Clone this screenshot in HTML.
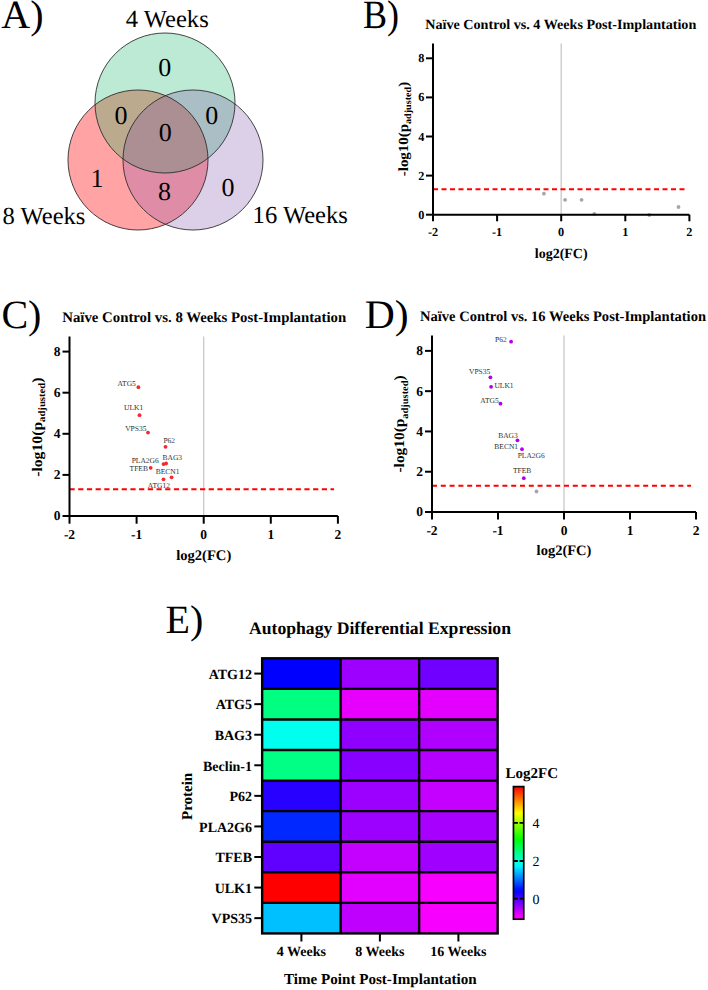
<!DOCTYPE html>
<html><head><meta charset="utf-8"><style>
html,body{margin:0;padding:0;background:#fff;}
svg{display:block;font-family:"Liberation Serif", serif;text-rendering:geometricPrecision;}
</style></head><body>
<svg width="708" height="990" viewBox="0 0 708 990" font-family='"Liberation Serif", serif'>
<rect width="708" height="990" fill="#fff"/>
<defs>
<clipPath id="cG"><circle cx="165" cy="103" r="70"/></clipPath>
<clipPath id="cR"><circle cx="138" cy="160" r="70"/></clipPath>
<clipPath id="cP"><circle cx="193" cy="160" r="70"/></clipPath>
</defs>
<circle cx="138" cy="160" r="70" fill="#ffa3a4" />
<circle cx="165" cy="103" r="70" fill="#bdead5" />
<circle cx="193" cy="160" r="70" fill="#dccfe8" />
<g clip-path="url(#cR)"><circle cx="165" cy="103" r="70" fill="#bcaa8e" /></g>
<g clip-path="url(#cR)"><circle cx="193" cy="160" r="70" fill="#df8ca7" /></g>
<g clip-path="url(#cG)"><circle cx="193" cy="160" r="70" fill="#a9bec5" /></g>
<g clip-path="url(#cR)"><g clip-path="url(#cG)"><circle cx="193" cy="160" r="70" fill="#ab8f93" /></g></g>
<circle cx="165" cy="103" r="70" fill="none" stroke="#262626" stroke-width="0.85"/>
<circle cx="138" cy="160" r="70" fill="none" stroke="#262626" stroke-width="0.85"/>
<circle cx="193" cy="160" r="70" fill="none" stroke="#262626" stroke-width="0.85"/>
<text x="1.30" y="28.40" font-size="40" text-anchor="start" fill="#000" >A)</text>
<text x="125.80" y="27.20" font-size="24.6" text-anchor="start" fill="#000" >4 Weeks</text>
<text x="2.50" y="223.50" font-size="24.6" text-anchor="start" fill="#000" >8 Weeks</text>
<text x="252.60" y="222.80" font-size="24.6" text-anchor="start" fill="#000" >16 Weeks</text>
<text x="164.70" y="75.70" font-size="26" text-anchor="middle" fill="#000" >0</text>
<text x="121.00" y="124.20" font-size="26" text-anchor="middle" fill="#000" >0</text>
<text x="211.70" y="124.20" font-size="26" text-anchor="middle" fill="#000" >0</text>
<text x="165.30" y="141.00" font-size="26" text-anchor="middle" fill="#000" >0</text>
<text x="97.00" y="186.70" font-size="26" text-anchor="middle" fill="#000" >1</text>
<text x="164.60" y="200.00" font-size="26" text-anchor="middle" fill="#000" >8</text>
<text x="228.00" y="195.60" font-size="26" text-anchor="middle" fill="#000" >0</text>
<text transform="translate(363,28.3) scale(0.9,1)" font-size="40">B)</text>
<line x1="561.20" y1="43.40" x2="561.20" y2="214.70" stroke="#c8c8c8" stroke-width="1.3"/>
<line x1="433.00" y1="189.26" x2="686.00" y2="189.26" stroke="#ff0000" stroke-width="2" stroke-dasharray="5 3.5"/>
<circle cx="543.9" cy="193.7" r="1.9" fill="#a6a6a6"/>
<circle cx="565.1" cy="199.8" r="1.9" fill="#a6a6a6"/>
<circle cx="581.6" cy="199.8" r="1.9" fill="#a6a6a6"/>
<circle cx="594.3" cy="213.9" r="1.9" fill="#a6a6a6"/>
<circle cx="649.3" cy="215" r="1.9" fill="#a6a6a6"/>
<circle cx="678.5" cy="207" r="1.9" fill="#a6a6a6"/>
<path d="M433.00 43.40V214.70H689.40" fill="none" stroke="#000" stroke-width="2"/>
<line x1="426.00" y1="214.70" x2="433.00" y2="214.70" stroke="#000" stroke-width="2"/>
<text x="424.50" y="218.76" font-size="12.3" font-weight="bold" text-anchor="end" fill="#000" >0</text>
<line x1="426.00" y1="175.60" x2="433.00" y2="175.60" stroke="#000" stroke-width="2"/>
<text x="424.50" y="179.66" font-size="12.3" font-weight="bold" text-anchor="end" fill="#000" >2</text>
<line x1="426.00" y1="136.50" x2="433.00" y2="136.50" stroke="#000" stroke-width="2"/>
<text x="424.50" y="140.56" font-size="12.3" font-weight="bold" text-anchor="end" fill="#000" >4</text>
<line x1="426.00" y1="97.40" x2="433.00" y2="97.40" stroke="#000" stroke-width="2"/>
<text x="424.50" y="101.46" font-size="12.3" font-weight="bold" text-anchor="end" fill="#000" >6</text>
<line x1="426.00" y1="58.30" x2="433.00" y2="58.30" stroke="#000" stroke-width="2"/>
<text x="424.50" y="62.36" font-size="12.3" font-weight="bold" text-anchor="end" fill="#000" >8</text>
<line x1="433.00" y1="214.70" x2="433.00" y2="221.30" stroke="#000" stroke-width="2"/>
<text x="433.00" y="236.30" font-size="12.3" font-weight="bold" text-anchor="middle" fill="#000" >-2</text>
<line x1="497.10" y1="214.70" x2="497.10" y2="221.30" stroke="#000" stroke-width="2"/>
<text x="497.10" y="236.30" font-size="12.3" font-weight="bold" text-anchor="middle" fill="#000" >-1</text>
<line x1="561.20" y1="214.70" x2="561.20" y2="221.30" stroke="#000" stroke-width="2"/>
<text x="561.20" y="236.30" font-size="12.3" font-weight="bold" text-anchor="middle" fill="#000" >0</text>
<line x1="625.30" y1="214.70" x2="625.30" y2="221.30" stroke="#000" stroke-width="2"/>
<text x="625.30" y="236.30" font-size="12.3" font-weight="bold" text-anchor="middle" fill="#000" >1</text>
<line x1="689.40" y1="214.70" x2="689.40" y2="221.30" stroke="#000" stroke-width="2"/>
<text x="689.40" y="236.30" font-size="12.3" font-weight="bold" text-anchor="middle" fill="#000" >2</text>
<text x="425.30" y="28.80" font-size="14" font-weight="bold" text-anchor="start" fill="#000" textLength="271" lengthAdjust="spacingAndGlyphs">Naïve Control vs. 4 Weeks Post-Implantation</text>
<text x="561.20" y="258.10" font-size="14" font-weight="bold" text-anchor="middle" fill="#000" >log2(FC)</text>
<text transform="translate(407.70,129.00) rotate(-90) scale(1.067,1)" text-anchor="middle" font-size="14" font-weight="bold">-log10(p<tspan font-size="9.52" dy="3.50">adjusted</tspan><tspan dy="-3.50">)</tspan></text>
<text x="1.40" y="328.40" font-size="40" text-anchor="start" fill="#000" >C)</text>
<line x1="203.70" y1="336.40" x2="203.70" y2="516.00" stroke="#c8c8c8" stroke-width="1.3"/>
<line x1="69.50" y1="489.26" x2="334.00" y2="489.26" stroke="#ff0000" stroke-width="2" stroke-dasharray="5.2 3.5"/>
<circle cx="138.4" cy="387.2" r="1.9" fill="#f02a30"/>
<circle cx="139.5" cy="415.2" r="1.9" fill="#f02a30"/>
<circle cx="148" cy="432.6" r="1.9" fill="#f02a30"/>
<circle cx="165.5" cy="446.8" r="1.9" fill="#f02a30"/>
<circle cx="163.5" cy="464.1" r="1.9" fill="#f02a30"/>
<circle cx="166.1" cy="463.5" r="1.9" fill="#f02a30"/>
<circle cx="150.7" cy="467.8" r="1.9" fill="#f02a30"/>
<circle cx="171.6" cy="477.3" r="1.9" fill="#f02a30"/>
<circle cx="163.5" cy="479.3" r="1.9" fill="#f02a30"/>
<text x="117.50" y="386.00" font-size="7.5" text-anchor="start" fill="#333" >ATG5</text>
<text x="124.10" y="410.30" font-size="7.5" text-anchor="start" fill="#333" >ULK1</text>
<text x="125.20" y="431.00" font-size="7.5" text-anchor="start" fill="#333" >VPS35</text>
<text x="163.40" y="442.70" font-size="7.5" text-anchor="start" fill="#333" >P62</text>
<text x="162.50" y="459.80" font-size="7.5" text-anchor="start" fill="#333" >BAG3</text>
<text x="131.70" y="463.20" font-size="7.5" text-anchor="start" fill="#333" >PLA2G6</text>
<text x="129.60" y="471.10" font-size="7.5" text-anchor="start" fill="#333" >TFEB</text>
<text x="155.70" y="473.60" font-size="7.5" text-anchor="start" fill="#333" >BECN1</text>
<text x="147.80" y="488.40" font-size="7.5" text-anchor="start" fill="#333" >ATG12</text>
<path d="M69.50 336.40V516.00H337.90" fill="none" stroke="#000" stroke-width="2"/>
<line x1="62.50" y1="516.00" x2="69.50" y2="516.00" stroke="#000" stroke-width="2"/>
<text x="60.50" y="520.46" font-size="13.5" font-weight="bold" text-anchor="end" fill="#000" >0</text>
<line x1="62.50" y1="474.90" x2="69.50" y2="474.90" stroke="#000" stroke-width="2"/>
<text x="60.50" y="479.35" font-size="13.5" font-weight="bold" text-anchor="end" fill="#000" >2</text>
<line x1="62.50" y1="433.80" x2="69.50" y2="433.80" stroke="#000" stroke-width="2"/>
<text x="60.50" y="438.25" font-size="13.5" font-weight="bold" text-anchor="end" fill="#000" >4</text>
<line x1="62.50" y1="392.70" x2="69.50" y2="392.70" stroke="#000" stroke-width="2"/>
<text x="60.50" y="397.15" font-size="13.5" font-weight="bold" text-anchor="end" fill="#000" >6</text>
<line x1="62.50" y1="351.60" x2="69.50" y2="351.60" stroke="#000" stroke-width="2"/>
<text x="60.50" y="356.06" font-size="13.5" font-weight="bold" text-anchor="end" fill="#000" >8</text>
<line x1="69.50" y1="516.00" x2="69.50" y2="523.70" stroke="#000" stroke-width="2"/>
<text x="69.50" y="539.00" font-size="13.5" font-weight="bold" text-anchor="middle" fill="#000" >-2</text>
<line x1="136.60" y1="516.00" x2="136.60" y2="523.70" stroke="#000" stroke-width="2"/>
<text x="136.60" y="539.00" font-size="13.5" font-weight="bold" text-anchor="middle" fill="#000" >-1</text>
<line x1="203.70" y1="516.00" x2="203.70" y2="523.70" stroke="#000" stroke-width="2"/>
<text x="203.70" y="539.00" font-size="13.5" font-weight="bold" text-anchor="middle" fill="#000" >0</text>
<line x1="270.80" y1="516.00" x2="270.80" y2="523.70" stroke="#000" stroke-width="2"/>
<text x="270.80" y="539.00" font-size="13.5" font-weight="bold" text-anchor="middle" fill="#000" >1</text>
<line x1="337.90" y1="516.00" x2="337.90" y2="523.70" stroke="#000" stroke-width="2"/>
<text x="337.90" y="539.00" font-size="13.5" font-weight="bold" text-anchor="middle" fill="#000" >2</text>
<text x="62.20" y="321.60" font-size="14.6" font-weight="bold" text-anchor="start" fill="#000" textLength="284" lengthAdjust="spacingAndGlyphs">Naïve Control vs. 8 Weeks Post-Implantation</text>
<text x="203.70" y="560.10" font-size="14.6" font-weight="bold" text-anchor="middle" fill="#000" >log2(FC)</text>
<text transform="translate(41.80,427.20) rotate(-90) scale(1.083,1)" text-anchor="middle" font-size="14.5" font-weight="bold">-log10(p<tspan font-size="9.86" dy="3.62">adjusted</tspan><tspan dy="-3.62">)</tspan></text>
<text transform="translate(364.8,328.2) scale(1.04,1.01)" font-size="40">D)</text>
<line x1="564.00" y1="335.60" x2="564.00" y2="512.00" stroke="#c8c8c8" stroke-width="1.3"/>
<line x1="432.00" y1="485.80" x2="691.00" y2="485.80" stroke="#ff0000" stroke-width="2" stroke-dasharray="5 3.8"/>
<circle cx="511.1" cy="341.7" r="1.9" fill="#b400ea"/>
<circle cx="490.4" cy="377.3" r="1.9" fill="#b400ea"/>
<circle cx="491.1" cy="386.8" r="1.9" fill="#b400ea"/>
<circle cx="500.5" cy="403.7" r="1.9" fill="#b400ea"/>
<circle cx="517.5" cy="440.3" r="1.9" fill="#b400ea"/>
<circle cx="522" cy="449.2" r="1.9" fill="#b400ea"/>
<circle cx="523.8" cy="478.2" r="1.9" fill="#b400ea"/>
<circle cx="536.5" cy="491.5" r="1.9" fill="#a6a6a6"/>
<text x="495.10" y="342.40" font-size="7.5" text-anchor="start" fill="#333" >P62</text>
<text x="469.00" y="374.10" font-size="7.5" text-anchor="start" fill="#333" >VPS35</text>
<text x="494.40" y="387.90" font-size="7.5" text-anchor="start" fill="#333" >ULK1</text>
<text x="480.30" y="403.40" font-size="7.5" text-anchor="start" fill="#333" >ATG5</text>
<text x="498.20" y="437.70" font-size="7.5" text-anchor="start" fill="#333" >BAG3</text>
<text x="494.30" y="449.00" font-size="7.5" text-anchor="start" fill="#333" >BECN1</text>
<text x="517.70" y="457.90" font-size="7.5" text-anchor="start" fill="#333" >PLA2G6</text>
<text x="512.90" y="473.30" font-size="7.5" text-anchor="start" fill="#333" >TFEB</text>
<path d="M432.00 335.60V512.00H696.00" fill="none" stroke="#000" stroke-width="2"/>
<line x1="425.00" y1="512.00" x2="432.00" y2="512.00" stroke="#000" stroke-width="2"/>
<text x="423.00" y="516.46" font-size="13.5" font-weight="bold" text-anchor="end" fill="#000" >0</text>
<line x1="425.00" y1="471.72" x2="432.00" y2="471.72" stroke="#000" stroke-width="2"/>
<text x="423.00" y="476.18" font-size="13.5" font-weight="bold" text-anchor="end" fill="#000" >2</text>
<line x1="425.00" y1="431.44" x2="432.00" y2="431.44" stroke="#000" stroke-width="2"/>
<text x="423.00" y="435.89" font-size="13.5" font-weight="bold" text-anchor="end" fill="#000" >4</text>
<line x1="425.00" y1="391.16" x2="432.00" y2="391.16" stroke="#000" stroke-width="2"/>
<text x="423.00" y="395.61" font-size="13.5" font-weight="bold" text-anchor="end" fill="#000" >6</text>
<line x1="425.00" y1="350.88" x2="432.00" y2="350.88" stroke="#000" stroke-width="2"/>
<text x="423.00" y="355.33" font-size="13.5" font-weight="bold" text-anchor="end" fill="#000" >8</text>
<line x1="432.00" y1="512.00" x2="432.00" y2="519.50" stroke="#000" stroke-width="2"/>
<text x="432.00" y="535.00" font-size="13.5" font-weight="bold" text-anchor="middle" fill="#000" >-2</text>
<line x1="498.00" y1="512.00" x2="498.00" y2="519.50" stroke="#000" stroke-width="2"/>
<text x="498.00" y="535.00" font-size="13.5" font-weight="bold" text-anchor="middle" fill="#000" >-1</text>
<line x1="564.00" y1="512.00" x2="564.00" y2="519.50" stroke="#000" stroke-width="2"/>
<text x="564.00" y="535.00" font-size="13.5" font-weight="bold" text-anchor="middle" fill="#000" >0</text>
<line x1="630.00" y1="512.00" x2="630.00" y2="519.50" stroke="#000" stroke-width="2"/>
<text x="630.00" y="535.00" font-size="13.5" font-weight="bold" text-anchor="middle" fill="#000" >1</text>
<line x1="696.00" y1="512.00" x2="696.00" y2="519.50" stroke="#000" stroke-width="2"/>
<text x="696.00" y="535.00" font-size="13.5" font-weight="bold" text-anchor="middle" fill="#000" >2</text>
<text x="420.00" y="321.30" font-size="14.5" font-weight="bold" text-anchor="start" fill="#000" textLength="286" lengthAdjust="spacingAndGlyphs">Naïve Control vs. 16 Weeks Post-Implantation</text>
<text x="564.00" y="555.00" font-size="14.5" font-weight="bold" text-anchor="middle" fill="#000" >log2(FC)</text>
<text transform="translate(404.40,423.90) rotate(-90) scale(1.06,1)" text-anchor="middle" font-size="14.5" font-weight="bold">-log10(p<tspan font-size="9.86" dy="3.62">adjusted</tspan><tspan dy="-3.62">)</tspan></text>
<text x="165.50" y="633.20" font-size="40" text-anchor="start" fill="#000" >E)</text>
<text x="249.00" y="634.00" font-size="17.6" font-weight="bold" text-anchor="start" fill="#000" textLength="262" lengthAdjust="spacingAndGlyphs">Autophagy Differential Expression</text>
<rect x="262.15" y="658.30" width="78.50" height="30.57" fill="#0000ff"/>
<rect x="340.65" y="658.30" width="78.50" height="30.57" fill="#9e00ff"/>
<rect x="419.15" y="658.30" width="78.50" height="30.57" fill="#7000ff"/>
<rect x="262.15" y="688.87" width="78.50" height="30.57" fill="#00ff80"/>
<rect x="340.65" y="688.87" width="78.50" height="30.57" fill="#e800ff"/>
<rect x="419.15" y="688.87" width="78.50" height="30.57" fill="#e400ff"/>
<rect x="262.15" y="719.44" width="78.50" height="30.57" fill="#00ffee"/>
<rect x="340.65" y="719.44" width="78.50" height="30.57" fill="#9000ff"/>
<rect x="419.15" y="719.44" width="78.50" height="30.57" fill="#b000ff"/>
<rect x="262.15" y="750.01" width="78.50" height="30.57" fill="#00ff84"/>
<rect x="340.65" y="750.01" width="78.50" height="30.57" fill="#8800ff"/>
<rect x="419.15" y="750.01" width="78.50" height="30.57" fill="#b400ff"/>
<rect x="262.15" y="780.58" width="78.50" height="30.57" fill="#2800ff"/>
<rect x="340.65" y="780.58" width="78.50" height="30.57" fill="#9c00ff"/>
<rect x="419.15" y="780.58" width="78.50" height="30.57" fill="#c400ff"/>
<rect x="262.15" y="811.15" width="78.50" height="30.57" fill="#0028ff"/>
<rect x="340.65" y="811.15" width="78.50" height="30.57" fill="#9c00ff"/>
<rect x="419.15" y="811.15" width="78.50" height="30.57" fill="#a800ff"/>
<rect x="262.15" y="841.72" width="78.50" height="30.57" fill="#6000ff"/>
<rect x="340.65" y="841.72" width="78.50" height="30.57" fill="#c400ff"/>
<rect x="419.15" y="841.72" width="78.50" height="30.57" fill="#a000ff"/>
<rect x="262.15" y="872.29" width="78.50" height="30.57" fill="#ff0000"/>
<rect x="340.65" y="872.29" width="78.50" height="30.57" fill="#e200ff"/>
<rect x="419.15" y="872.29" width="78.50" height="30.57" fill="#f800ff"/>
<rect x="262.15" y="902.86" width="78.50" height="30.57" fill="#00c0ff"/>
<rect x="340.65" y="902.86" width="78.50" height="30.57" fill="#c000ff"/>
<rect x="419.15" y="902.86" width="78.50" height="30.57" fill="#f800ff"/>
<line x1="262.15" y1="688.87" x2="497.65" y2="688.87" stroke="#000" stroke-width="2.4"/>
<line x1="262.15" y1="719.44" x2="497.65" y2="719.44" stroke="#000" stroke-width="2.4"/>
<line x1="262.15" y1="750.01" x2="497.65" y2="750.01" stroke="#000" stroke-width="2.4"/>
<line x1="262.15" y1="780.58" x2="497.65" y2="780.58" stroke="#000" stroke-width="2.4"/>
<line x1="262.15" y1="811.15" x2="497.65" y2="811.15" stroke="#000" stroke-width="2.4"/>
<line x1="262.15" y1="841.72" x2="497.65" y2="841.72" stroke="#000" stroke-width="2.4"/>
<line x1="262.15" y1="872.29" x2="497.65" y2="872.29" stroke="#000" stroke-width="2.4"/>
<line x1="262.15" y1="902.86" x2="497.65" y2="902.86" stroke="#000" stroke-width="2.4"/>
<line x1="340.65" y1="658.30" x2="340.65" y2="933.43" stroke="#000" stroke-width="2.4"/>
<line x1="419.15" y1="658.30" x2="419.15" y2="933.43" stroke="#000" stroke-width="2.4"/>
<rect x="262.15" y="658.30" width="235.50" height="275.13" fill="none" stroke="#000" stroke-width="2.4"/>
<line x1="254.3" y1="673.59" x2="262.15" y2="673.59" stroke="#000" stroke-width="2"/>
<text x="252.00" y="678.88" font-size="14" font-weight="bold" text-anchor="end" fill="#000" >ATG12</text>
<line x1="254.3" y1="704.15" x2="262.15" y2="704.15" stroke="#000" stroke-width="2"/>
<text x="252.00" y="709.45" font-size="14" font-weight="bold" text-anchor="end" fill="#000" >ATG5</text>
<line x1="254.3" y1="734.72" x2="262.15" y2="734.72" stroke="#000" stroke-width="2"/>
<text x="252.00" y="740.02" font-size="14" font-weight="bold" text-anchor="end" fill="#000" >BAG3</text>
<line x1="254.3" y1="765.29" x2="262.15" y2="765.29" stroke="#000" stroke-width="2"/>
<text x="252.00" y="770.59" font-size="14" font-weight="bold" text-anchor="end" fill="#000" >Beclin-1</text>
<line x1="254.3" y1="795.87" x2="262.15" y2="795.87" stroke="#000" stroke-width="2"/>
<text x="252.00" y="801.16" font-size="14" font-weight="bold" text-anchor="end" fill="#000" >P62</text>
<line x1="254.3" y1="826.43" x2="262.15" y2="826.43" stroke="#000" stroke-width="2"/>
<text x="252.00" y="831.73" font-size="14" font-weight="bold" text-anchor="end" fill="#000" >PLA2G6</text>
<line x1="254.3" y1="857.00" x2="262.15" y2="857.00" stroke="#000" stroke-width="2"/>
<text x="252.00" y="862.30" font-size="14" font-weight="bold" text-anchor="end" fill="#000" >TFEB</text>
<line x1="254.3" y1="887.57" x2="262.15" y2="887.57" stroke="#000" stroke-width="2"/>
<text x="252.00" y="892.87" font-size="14" font-weight="bold" text-anchor="end" fill="#000" >ULK1</text>
<line x1="254.3" y1="918.14" x2="262.15" y2="918.14" stroke="#000" stroke-width="2"/>
<text x="252.00" y="923.44" font-size="14" font-weight="bold" text-anchor="end" fill="#000" >VPS35</text>
<line x1="301.40" y1="933.43" x2="301.40" y2="941.5" stroke="#000" stroke-width="2"/>
<text x="301.40" y="955.90" font-size="14" font-weight="bold" text-anchor="middle" fill="#000" >4 Weeks</text>
<line x1="379.90" y1="933.43" x2="379.90" y2="941.5" stroke="#000" stroke-width="2"/>
<text x="379.90" y="955.90" font-size="14" font-weight="bold" text-anchor="middle" fill="#000" >8 Weeks</text>
<line x1="458.40" y1="933.43" x2="458.40" y2="941.5" stroke="#000" stroke-width="2"/>
<text x="458.40" y="955.90" font-size="14" font-weight="bold" text-anchor="middle" fill="#000" >16 Weeks</text>
<text x="380.30" y="984.20" font-size="15.1" font-weight="bold" text-anchor="middle" fill="#000" >Time Point Post-Implantation</text>
<text transform="translate(191.9,796.4) rotate(-90)" text-anchor="middle" font-size="15" font-weight="bold">Protein</text>
<defs><linearGradient id="cb" x1="0" y1="1" x2="0" y2="0">
<stop offset="0.000" stop-color="hsl(300.0,100%,50%)"/>
<stop offset="0.025" stop-color="hsl(297.7,100%,50%)"/>
<stop offset="0.050" stop-color="hsl(290.1,100%,50%)"/>
<stop offset="0.075" stop-color="hsl(282.4,100%,50%)"/>
<stop offset="0.100" stop-color="hsl(274.8,100%,50%)"/>
<stop offset="0.125" stop-color="hsl(267.1,100%,50%)"/>
<stop offset="0.150" stop-color="hsl(259.4,100%,50%)"/>
<stop offset="0.175" stop-color="hsl(251.8,100%,50%)"/>
<stop offset="0.200" stop-color="hsl(244.1,100%,50%)"/>
<stop offset="0.225" stop-color="hsl(236.5,100%,50%)"/>
<stop offset="0.250" stop-color="hsl(228.8,100%,50%)"/>
<stop offset="0.275" stop-color="hsl(221.1,100%,50%)"/>
<stop offset="0.300" stop-color="hsl(213.5,100%,50%)"/>
<stop offset="0.325" stop-color="hsl(205.8,100%,50%)"/>
<stop offset="0.350" stop-color="hsl(198.2,100%,50%)"/>
<stop offset="0.375" stop-color="hsl(190.5,100%,50%)"/>
<stop offset="0.400" stop-color="hsl(182.9,100%,50%)"/>
<stop offset="0.425" stop-color="hsl(175.2,100%,50%)"/>
<stop offset="0.450" stop-color="hsl(167.5,100%,50%)"/>
<stop offset="0.475" stop-color="hsl(159.9,100%,50%)"/>
<stop offset="0.500" stop-color="hsl(152.2,100%,50%)"/>
<stop offset="0.525" stop-color="hsl(144.6,100%,50%)"/>
<stop offset="0.550" stop-color="hsl(136.9,100%,50%)"/>
<stop offset="0.575" stop-color="hsl(129.3,100%,50%)"/>
<stop offset="0.600" stop-color="hsl(121.6,100%,50%)"/>
<stop offset="0.625" stop-color="hsl(113.9,100%,50%)"/>
<stop offset="0.650" stop-color="hsl(106.3,100%,50%)"/>
<stop offset="0.675" stop-color="hsl(98.6,100%,50%)"/>
<stop offset="0.700" stop-color="hsl(91.0,100%,50%)"/>
<stop offset="0.725" stop-color="hsl(83.3,100%,50%)"/>
<stop offset="0.750" stop-color="hsl(75.7,100%,50%)"/>
<stop offset="0.775" stop-color="hsl(68.0,100%,50%)"/>
<stop offset="0.800" stop-color="hsl(60.3,100%,50%)"/>
<stop offset="0.825" stop-color="hsl(52.7,100%,50%)"/>
<stop offset="0.850" stop-color="hsl(45.0,100%,50%)"/>
<stop offset="0.875" stop-color="hsl(37.4,100%,50%)"/>
<stop offset="0.900" stop-color="hsl(29.7,100%,50%)"/>
<stop offset="0.925" stop-color="hsl(22.0,100%,50%)"/>
<stop offset="0.950" stop-color="hsl(14.4,100%,50%)"/>
<stop offset="0.975" stop-color="hsl(6.7,100%,50%)"/>
<stop offset="1.000" stop-color="hsl(0.0,100%,50%)"/>
</linearGradient></defs>
<rect x="513.45" y="786.6" width="10.3" height="132.6" fill="url(#cb)" stroke="#000" stroke-width="1.7"/>
<line x1="513.3" y1="822.8" x2="524" y2="822.8" stroke="#000" stroke-width="1.8" stroke-dasharray="4.6 1.6 8"/>
<text x="532.50" y="827.80" font-size="14" text-anchor="start" fill="#000" >4</text>
<line x1="513.3" y1="861" x2="524" y2="861" stroke="#000" stroke-width="1.8" stroke-dasharray="4.6 1.6 8"/>
<text x="532.50" y="866.00" font-size="14" text-anchor="start" fill="#000" >2</text>
<line x1="513.3" y1="898.7" x2="524" y2="898.7" stroke="#000" stroke-width="1.8" stroke-dasharray="4.6 1.6 8"/>
<text x="532.50" y="903.70" font-size="14" text-anchor="start" fill="#000" >0</text>
<text x="505.60" y="777.70" font-size="15" font-weight="bold" text-anchor="start" fill="#000" >Log2FC</text>
</svg>
</body></html>
